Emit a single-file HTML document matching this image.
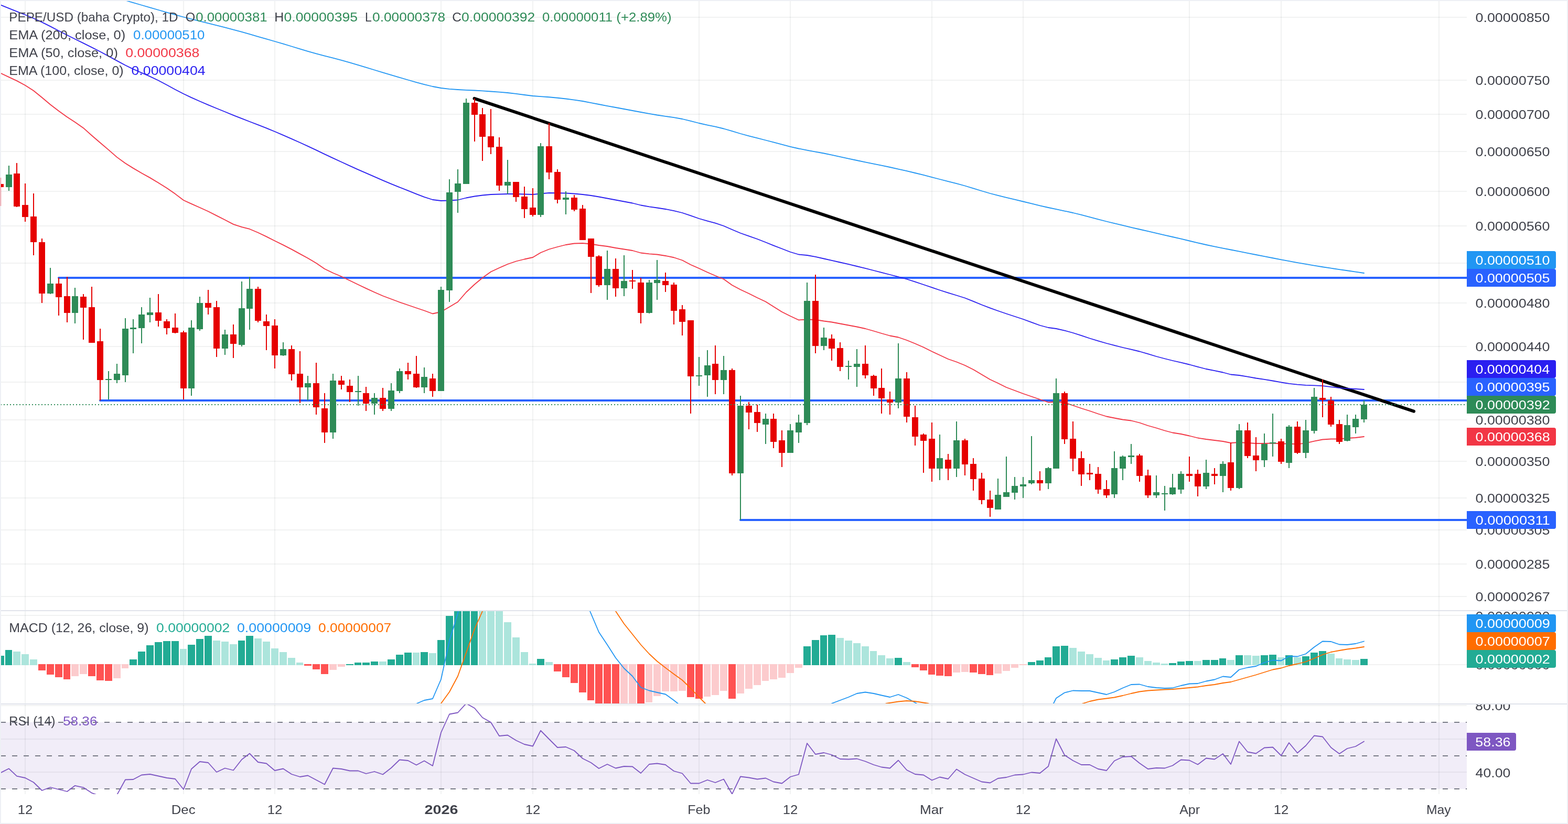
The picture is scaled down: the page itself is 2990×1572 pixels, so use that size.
<!DOCTYPE html>
<html lang="en"><head><meta charset="utf-8"><title>PEPE/USD chart</title>
<style>html,body{margin:0;padding:0;background:#fff;}body{width:2990px;height:1572px;overflow:hidden;}svg{display:block;}text{font-family:'Liberation Sans', sans-serif;font-size:24.6px;}</style>
</head><body>
<svg width="2990" height="1572" viewBox="0 0 2990 1572" role="img" aria-label="PEPE/USD daily chart">
<defs>
<clipPath id="cpMain"><rect x="0" y="0" width="2797" height="1164"/></clipPath>
<clipPath id="cpMacd"><rect x="0" y="1166" width="2797" height="176"/></clipPath>
<clipPath id="cpRsi"><rect x="0" y="1344" width="2797" height="171"/></clipPath>
<clipPath id="cpAx1"><rect x="2797" y="2" width="193" height="1162"/></clipPath>
<clipPath id="cpAx2"><rect x="2797" y="1166" width="193" height="176"/></clipPath>
<clipPath id="cpAx3"><rect x="2797" y="1344" width="193" height="171"/></clipPath>
</defs>
<rect width="2990" height="1572" fill="#fff"/>
<g fill="rgba(36,48,46,0.062)" shape-rendering="crispEdges">
<rect x="47" y="2" width="2" height="1513"/>
<rect x="349" y="2" width="2" height="1513"/>
<rect x="523" y="2" width="2" height="1513"/>
<rect x="840" y="2" width="2" height="1513"/>
<rect x="1015" y="2" width="2" height="1513"/>
<rect x="1332" y="2" width="2" height="1513"/>
<rect x="1506" y="2" width="2" height="1513"/>
<rect x="1776" y="2" width="2" height="1513"/>
<rect x="1950" y="2" width="2" height="1513"/>
<rect x="2267" y="2" width="2" height="1513"/>
<rect x="2442" y="2" width="2" height="1513"/>
<rect x="2743" y="2" width="2" height="1513"/>
<rect x="2" y="32" width="2795" height="2"/>
<rect x="2" y="152" width="2795" height="2"/>
<rect x="2" y="217" width="2795" height="2"/>
<rect x="2" y="288" width="2795" height="2"/>
<rect x="2" y="364" width="2795" height="2"/>
<rect x="2" y="430" width="2795" height="2"/>
<rect x="2" y="501" width="2795" height="2"/>
<rect x="2" y="577" width="2795" height="2"/>
<rect x="2" y="660" width="2795" height="2"/>
<rect x="2" y="728" width="2795" height="2"/>
<rect x="2" y="800" width="2795" height="2"/>
<rect x="2" y="879" width="2795" height="2"/>
<rect x="2" y="949" width="2795" height="2"/>
<rect x="2" y="1010" width="2795" height="2"/>
<rect x="2" y="1075" width="2795" height="2"/>
<rect x="2" y="1137" width="2795" height="2"/>
<rect x="2" y="1173" width="2795" height="2"/>
<rect x="2" y="1267" width="2795" height="2"/>
<rect x="2" y="1345" width="2795" height="2"/>
<rect x="2" y="1409" width="2795" height="2"/>
<rect x="2" y="1472" width="2795" height="2"/>
</g>
<rect x="2" y="1378" width="2795" height="127" fill="rgba(126,87,194,0.11)"/>
<g stroke="#787b86" stroke-width="2" stroke-dasharray="10 12" fill="none">
<line x1="1" y1="1378" x2="2797" y2="1378"/>
<line x1="1" y1="1442" x2="2797" y2="1442"/>
<line x1="1" y1="1505" x2="2797" y2="1505"/>
</g>
<g clip-path="url(#cpMain)">
<g stroke="#2962ff" stroke-width="4" stroke-linecap="round" fill="none">
<line x1="112" y1="530" x2="2801" y2="530"/>
<line x1="191" y1="764" x2="2801" y2="764"/>
<line x1="1412" y1="992" x2="2801" y2="992"/>
</g>
<line x1="904.5" y1="187.9" x2="2696" y2="784.7" stroke="#000" stroke-width="6" stroke-linecap="round"/>
<polyline points="240,1 254,5.08 270,9.76 286,14.41 302,19.01 318,23.58 334,28.09 350,32.5 365,36.45 381,40.47 397,44.39 413,48.31 429,52.33 445,56.54 461,60.94 476,65.17 492,69.76 508,74.38 524,79 540,83.69 556,88.51 572,93.35 587,97.82 603,102.42 619,106.74 635,110.74 651,114.85 667,119.31 683,124.03 698,128.58 714,133.5 730,138.36 746,143.08 762,147.8 778,152.51 794,157.05 809,161.05 825,165 841,168 857,169.84 873,171 889,171.81 905,172.5 920,173.41 936,174.5 952,175.63 968,177 984,178.91 1000,181 1016,183 1031,184.21 1047,185.25 1063,186.73 1079,188.5 1095,190.56 1111,193 1127,196.01 1142,199 1158,202.01 1174,205 1190,208 1206,211 1222,214 1238,216.9 1253,219.5 1269,221.89 1285,224.15 1301,227 1317,230.89 1333,235 1349,238.53 1364,241.68 1380,245.5 1396,250.19 1412,255 1428,259.33 1444,263.43 1460,267.5 1475,271.44 1491,275.69 1507,279.78 1523,283.5 1539,286.66 1555,289.52 1571,292.5 1586,295.59 1602,299.05 1618,302.56 1634,306 1650,309.3 1666,312.53 1681,315.6 1697,319 1713,322.55 1729,326.2 1745,330 1761,333.99 1777,338.11 1792,342 1808,346.07 1824,350.18 1840,354.5 1856,359.27 1872,364.26 1888,369 1903,372.98 1919,376.91 1935,380.69 1951,384.5 1967,388.4 1983,392.27 1999,396 2014,399.22 2030,402.51 2046,406 2062,409.92 2078,414.12 2094,418.39 2110,422.5 2125,426.17 2141,429.99 2157,433.76 2173,437.5 2189,441.21 2205,444.87 2221,448.53 2236,452 2252,455.74 2268,459.5 2284,463.3 2300,467 2316,470.38 2332,473.55 2347,476.5 2363,479.69 2379,482.86 2395,486 2411,489.14 2427,492.25 2443,495.31 2458,498.13 2474,501.09 2490,503.95 2506,506.69 2522,509.26 2538,511.71 2554,514.07 2569,516.26 2585,518.6 2601,521" fill="none" stroke="#2196f3" stroke-width="1.8" stroke-linejoin="round" stroke-linecap="round"/>
<polyline points="0,9 1,9.41 17,15.86 32,21.79 48,28.23 64,35.01 80,42.38 96,50.39 112,58.71 128,66.99 143,74.5 159,82.42 175,90.37 191,98.52 207,107.1 223,115.9 239,124.48 254,131.89 270,138.94 286,145.84 302,153.48 318,161.97 334,170.7 350,179 365,186.13 381,193.3 397,200.14 413,206.75 429,213.28 445,219.82 461,226.2 476,232.01 492,238.17 508,244.44 524,251 540,257.84 556,264.85 572,272.03 587,278.92 603,286.42 619,294.15 635,301.64 651,308.96 667,316.36 683,323.56 698,330.12 714,337.19 730,344.14 746,350.85 762,357.33 778,363.71 794,370.2 809,375.94 825,381 841,383 857,382.5 873,381.5 889,377.5 905,374.5 920,372.5 936,371 952,370.5 968,370 984,370 1000,370.5 1016,371 1031,369.5 1047,368 1063,368.25 1079,368.5 1095,369.5 1111,371 1127,373 1142,375.5 1158,378.5 1174,381.5 1190,384.5 1206,387.5 1222,391.5 1238,394.31 1253,396.5 1269,399 1285,402.08 1301,406 1317,411.32 1333,417 1349,421.62 1364,425.69 1380,431 1396,438.05 1412,444.73 1428,450.36 1444,456 1460,462.27 1475,468.34 1491,474.5 1507,480.75 1523,485.5 1539,487 1555,489.91 1571,493.5 1586,496.83 1602,500.5 1618,504.2 1634,508 1650,511.95 1666,516 1681,519.84 1697,524 1713,528.11 1729,532.5 1745,537.6 1761,543 1777,548.45 1792,553.5 1808,558.55 1824,563.5 1840,568.5 1856,574.82 1872,581.5 1888,587.56 1903,593 1919,598.5 1935,603.75 1951,609 1967,614.88 1983,620.75 1999,625 2014,627 2030,630.53 2046,635 2062,640.16 2078,645.5 2094,650.39 2110,655 2125,658.99 2141,663 2157,666.67 2173,670.5 2189,675.2 2205,680 2221,684.25 2236,688 2252,691.74 2268,695.5 2284,699.81 2300,704 2316,707.2 2332,710.5 2347,714.5 2363,716 2379,718.57 2395,721.5 2411,723.96 2427,726.5 2443,729.49 2458,731.77 2474,733.62 2490,734.93 2506,735.46 2522,736.08 2538,738.04 2554,740.05 2569,741.1 2585,742 2601,743" fill="none" stroke="#2a1ff0" stroke-width="1.8" stroke-linejoin="round" stroke-linecap="round"/>
<polyline points="0,139 1,139.5 17,147.1 32,154.13 48,162.8 64,173.04 80,185.96 96,199.54 112,211.77 128,223.35 143,232.93 159,244.18 175,258.5 191,272.25 207,285.82 223,299.87 239,311.51 254,320.88 270,330.18 286,339.12 302,348.73 318,358.83 334,369.86 350,382 365,388.91 381,395.99 397,403.26 413,411.33 429,419.57 445,427.85 461,433.22 476,436.97 492,443.72 508,451.39 524,459.5 540,467.43 556,475.66 572,484.35 587,492.48 603,501.97 619,513 635,520.77 651,527.5 667,535.22 683,543 698,550.12 714,557.5 730,564.5 746,570.5 762,576.5 778,582 794,587.5 809,592.5 825,598.5 841,595 857,585.5 873,576 889,557.5 905,542.5 920,530 936,518.5 952,511 968,504 984,498.5 1000,494.5 1016,491 1031,482 1047,475.5 1063,471 1079,467 1095,464.5 1111,464 1127,465.5 1142,468 1158,470 1174,473 1190,475.5 1206,478 1222,482.5 1238,484.35 1253,485.5 1269,488 1285,491.25 1301,496.5 1317,505 1333,512 1349,519.5 1364,526 1380,532.5 1396,544 1412,552.5 1428,560 1444,568 1460,575.5 1475,585 1491,595 1507,603 1523,610.5 1539,609.5 1555,610 1571,612.5 1586,614.5 1602,617.5 1618,620.5 1634,623.5 1650,627 1666,631.5 1681,636 1697,640.5 1713,643.5 1729,649 1745,655.5 1761,662.5 1777,670.5 1792,677.5 1808,685 1824,690.5 1840,697 1856,705 1872,714.5 1888,724 1903,731 1919,739 1935,745 1951,751 1967,756.5 1983,762 1999,767.5 2014,766.5 2030,768 2046,773.5 2062,779 2078,784 2094,789.5 2110,794.5 2125,797.5 2141,800.5 2157,802.5 2173,806.5 2189,812 2205,816.5 2221,821.5 2236,825.5 2252,828 2268,831.5 2284,835.5 2300,838 2316,840 2332,842 2347,845 2363,844 2379,845 2395,846 2411,846 2427,845.5 2443,846.5 2458,846.5 2474,847.28 2490,845.34 2506,841.69 2522,838.5 2538,837.5 2554,837.5 2569,836 2585,835 2601,833" fill="none" stroke="#f23645" stroke-width="1.8" stroke-linejoin="round" stroke-linecap="round"/>
<g fill="#e60000" shape-rendering="crispEdges">
<rect x="0" y="339" width="2" height="54"/>
<rect x="-5" y="351" width="12" height="6"/>
<rect x="31" y="311" width="2" height="84"/>
<rect x="26" y="331" width="12" height="63"/>
<rect x="47" y="350" width="2" height="73"/>
<rect x="42" y="391" width="12" height="23"/>
<rect x="63" y="369" width="2" height="118"/>
<rect x="58" y="413" width="12" height="49"/>
<rect x="79" y="455" width="2" height="123"/>
<rect x="74" y="462" width="12" height="98"/>
<rect x="111" y="530" width="2" height="72"/>
<rect x="106" y="541" width="12" height="26"/>
<rect x="127" y="528" width="2" height="87"/>
<rect x="122" y="565" width="12" height="32"/>
<rect x="158" y="561" width="2" height="87"/>
<rect x="153" y="566" width="12" height="21"/>
<rect x="174" y="547" width="2" height="107"/>
<rect x="169" y="586" width="12" height="68"/>
<rect x="190" y="627" width="2" height="137"/>
<rect x="185" y="651" width="12" height="74"/>
<rect x="301" y="561" width="2" height="62"/>
<rect x="296" y="596" width="12" height="16"/>
<rect x="317" y="609" width="2" height="29"/>
<rect x="312" y="613" width="12" height="13"/>
<rect x="333" y="598" width="2" height="38"/>
<rect x="328" y="625" width="12" height="10"/>
<rect x="349" y="631" width="2" height="131"/>
<rect x="344" y="634" width="12" height="107"/>
<rect x="396" y="553" width="2" height="47"/>
<rect x="391" y="578" width="12" height="9"/>
<rect x="412" y="574" width="2" height="107"/>
<rect x="407" y="586" width="12" height="79"/>
<rect x="444" y="619" width="2" height="64"/>
<rect x="439" y="638" width="12" height="18"/>
<rect x="491" y="547" width="2" height="68"/>
<rect x="486" y="551" width="12" height="61"/>
<rect x="507" y="600" width="2" height="68"/>
<rect x="502" y="613" width="12" height="9"/>
<rect x="523" y="609" width="2" height="94"/>
<rect x="518" y="621" width="12" height="57"/>
<rect x="555" y="659" width="2" height="67"/>
<rect x="550" y="666" width="12" height="48"/>
<rect x="571" y="670" width="2" height="99"/>
<rect x="566" y="713" width="12" height="26"/>
<rect x="602" y="692" width="2" height="99"/>
<rect x="597" y="731" width="12" height="46"/>
<rect x="618" y="750" width="2" height="95"/>
<rect x="613" y="779" width="12" height="46"/>
<rect x="650" y="717" width="2" height="26"/>
<rect x="645" y="726" width="12" height="8"/>
<rect x="666" y="724" width="2" height="43"/>
<rect x="661" y="736" width="12" height="12"/>
<rect x="697" y="738" width="2" height="46"/>
<rect x="692" y="750" width="12" height="20"/>
<rect x="729" y="740" width="2" height="44"/>
<rect x="724" y="759" width="12" height="21"/>
<rect x="777" y="692" width="2" height="32"/>
<rect x="772" y="708" width="12" height="6"/>
<rect x="793" y="679" width="2" height="61"/>
<rect x="788" y="713" width="12" height="26"/>
<rect x="824" y="713" width="2" height="44"/>
<rect x="819" y="722" width="12" height="24"/>
<rect x="904" y="188" width="2" height="82"/>
<rect x="899" y="196" width="12" height="23"/>
<rect x="919" y="206" width="2" height="101"/>
<rect x="914" y="218" width="12" height="43"/>
<rect x="935" y="208" width="2" height="86"/>
<rect x="930" y="260" width="12" height="21"/>
<rect x="951" y="262" width="2" height="102"/>
<rect x="946" y="280" width="12" height="74"/>
<rect x="983" y="347" width="2" height="38"/>
<rect x="978" y="347" width="12" height="29"/>
<rect x="999" y="356" width="2" height="60"/>
<rect x="994" y="375" width="12" height="24"/>
<rect x="1015" y="359" width="2" height="54"/>
<rect x="1010" y="396" width="12" height="14"/>
<rect x="1046" y="235" width="2" height="107"/>
<rect x="1041" y="279" width="12" height="50"/>
<rect x="1062" y="323" width="2" height="65"/>
<rect x="1057" y="328" width="12" height="53"/>
<rect x="1094" y="372" width="2" height="31"/>
<rect x="1089" y="377" width="12" height="23"/>
<rect x="1110" y="391" width="2" height="67"/>
<rect x="1105" y="398" width="12" height="60"/>
<rect x="1126" y="455" width="2" height="104"/>
<rect x="1121" y="455" width="12" height="35"/>
<rect x="1141" y="487" width="2" height="60"/>
<rect x="1136" y="489" width="12" height="55"/>
<rect x="1173" y="493" width="2" height="73"/>
<rect x="1168" y="513" width="12" height="37"/>
<rect x="1205" y="515" width="2" height="36"/>
<rect x="1200" y="535" width="12" height="2"/>
<rect x="1221" y="530" width="2" height="87"/>
<rect x="1216" y="539" width="12" height="58"/>
<rect x="1268" y="520" width="2" height="37"/>
<rect x="1263" y="536" width="12" height="8"/>
<rect x="1284" y="539" width="2" height="80"/>
<rect x="1279" y="543" width="12" height="50"/>
<rect x="1300" y="582" width="2" height="58"/>
<rect x="1295" y="590" width="12" height="24"/>
<rect x="1316" y="611" width="2" height="178"/>
<rect x="1311" y="611" width="12" height="107"/>
<rect x="1363" y="659" width="2" height="93"/>
<rect x="1358" y="694" width="12" height="31"/>
<rect x="1395" y="703" width="2" height="204"/>
<rect x="1390" y="706" width="12" height="197"/>
<rect x="1427" y="767" width="2" height="52"/>
<rect x="1422" y="774" width="12" height="13"/>
<rect x="1443" y="772" width="2" height="52"/>
<rect x="1438" y="786" width="12" height="21"/>
<rect x="1474" y="789" width="2" height="66"/>
<rect x="1469" y="799" width="12" height="44"/>
<rect x="1490" y="821" width="2" height="70"/>
<rect x="1485" y="840" width="12" height="24"/>
<rect x="1554" y="524" width="2" height="150"/>
<rect x="1549" y="574" width="12" height="86"/>
<rect x="1585" y="638" width="2" height="50"/>
<rect x="1580" y="646" width="12" height="19"/>
<rect x="1601" y="653" width="2" height="55"/>
<rect x="1596" y="664" width="12" height="36"/>
<rect x="1649" y="659" width="2" height="63"/>
<rect x="1644" y="694" width="12" height="22"/>
<rect x="1665" y="715" width="2" height="40"/>
<rect x="1660" y="717" width="12" height="24"/>
<rect x="1680" y="703" width="2" height="86"/>
<rect x="1675" y="740" width="12" height="20"/>
<rect x="1696" y="747" width="2" height="44"/>
<rect x="1691" y="762" width="12" height="6"/>
<rect x="1728" y="710" width="2" height="96"/>
<rect x="1723" y="722" width="12" height="73"/>
<rect x="1744" y="774" width="2" height="76"/>
<rect x="1739" y="796" width="12" height="37"/>
<rect x="1760" y="827" width="2" height="75"/>
<rect x="1755" y="829" width="12" height="12"/>
<rect x="1776" y="806" width="2" height="113"/>
<rect x="1771" y="837" width="12" height="57"/>
<rect x="1807" y="866" width="2" height="50"/>
<rect x="1802" y="877" width="12" height="17"/>
<rect x="1839" y="837" width="2" height="70"/>
<rect x="1834" y="840" width="12" height="46"/>
<rect x="1855" y="874" width="2" height="62"/>
<rect x="1850" y="885" width="12" height="29"/>
<rect x="1871" y="902" width="2" height="60"/>
<rect x="1866" y="913" width="12" height="41"/>
<rect x="1887" y="936" width="2" height="50"/>
<rect x="1882" y="953" width="12" height="16"/>
<rect x="1982" y="899" width="2" height="37"/>
<rect x="1977" y="916" width="12" height="6"/>
<rect x="2029" y="747" width="2" height="100"/>
<rect x="2024" y="750" width="12" height="88"/>
<rect x="2045" y="804" width="2" height="95"/>
<rect x="2040" y="837" width="12" height="38"/>
<rect x="2061" y="861" width="2" height="66"/>
<rect x="2056" y="874" width="12" height="31"/>
<rect x="2077" y="885" width="2" height="31"/>
<rect x="2072" y="902" width="12" height="3"/>
<rect x="2093" y="891" width="2" height="51"/>
<rect x="2088" y="904" width="12" height="30"/>
<rect x="2109" y="916" width="2" height="34"/>
<rect x="2104" y="933" width="12" height="12"/>
<rect x="2172" y="866" width="2" height="53"/>
<rect x="2167" y="869" width="12" height="39"/>
<rect x="2188" y="896" width="2" height="54"/>
<rect x="2183" y="907" width="12" height="38"/>
<rect x="2267" y="871" width="2" height="48"/>
<rect x="2262" y="904" width="12" height="4"/>
<rect x="2283" y="896" width="2" height="51"/>
<rect x="2278" y="904" width="12" height="24"/>
<rect x="2315" y="893" width="2" height="31"/>
<rect x="2310" y="904" width="12" height="4"/>
<rect x="2346" y="845" width="2" height="91"/>
<rect x="2341" y="882" width="12" height="49"/>
<rect x="2378" y="806" width="2" height="68"/>
<rect x="2373" y="821" width="12" height="49"/>
<rect x="2394" y="834" width="2" height="65"/>
<rect x="2389" y="869" width="12" height="9"/>
<rect x="2442" y="837" width="2" height="48"/>
<rect x="2437" y="842" width="12" height="39"/>
<rect x="2473" y="804" width="2" height="62"/>
<rect x="2468" y="814" width="12" height="50"/>
<rect x="2521" y="724" width="2" height="72"/>
<rect x="2516" y="759" width="12" height="4"/>
<rect x="2537" y="757" width="2" height="57"/>
<rect x="2532" y="764" width="12" height="46"/>
<rect x="2553" y="801" width="2" height="46"/>
<rect x="2548" y="809" width="12" height="34"/>
</g>
<g fill="#2e8b57" shape-rendering="crispEdges">
<rect x="16" y="316" width="2" height="48"/>
<rect x="11" y="333" width="12" height="24"/>
<rect x="95" y="511" width="2" height="50"/>
<rect x="90" y="541" width="12" height="19"/>
<rect x="142" y="549" width="2" height="68"/>
<rect x="137" y="565" width="12" height="32"/>
<rect x="206" y="708" width="2" height="54"/>
<rect x="201" y="723" width="12" height="2"/>
<rect x="222" y="694" width="2" height="37"/>
<rect x="217" y="713" width="12" height="12"/>
<rect x="238" y="607" width="2" height="122"/>
<rect x="233" y="627" width="12" height="89"/>
<rect x="253" y="609" width="2" height="65"/>
<rect x="248" y="625" width="12" height="3"/>
<rect x="269" y="586" width="2" height="69"/>
<rect x="264" y="600" width="12" height="26"/>
<rect x="285" y="568" width="2" height="47"/>
<rect x="280" y="596" width="12" height="5"/>
<rect x="364" y="611" width="2" height="144"/>
<rect x="359" y="625" width="12" height="116"/>
<rect x="380" y="566" width="2" height="65"/>
<rect x="375" y="578" width="12" height="50"/>
<rect x="428" y="629" width="2" height="48"/>
<rect x="423" y="638" width="12" height="27"/>
<rect x="460" y="537" width="2" height="124"/>
<rect x="455" y="588" width="12" height="70"/>
<rect x="475" y="528" width="2" height="101"/>
<rect x="470" y="551" width="12" height="38"/>
<rect x="539" y="653" width="2" height="26"/>
<rect x="534" y="666" width="12" height="12"/>
<rect x="586" y="717" width="2" height="47"/>
<rect x="581" y="731" width="12" height="8"/>
<rect x="634" y="713" width="2" height="124"/>
<rect x="629" y="726" width="12" height="99"/>
<rect x="682" y="717" width="2" height="57"/>
<rect x="677" y="746" width="12" height="2"/>
<rect x="713" y="750" width="2" height="41"/>
<rect x="708" y="759" width="12" height="11"/>
<rect x="745" y="731" width="2" height="53"/>
<rect x="740" y="745" width="12" height="35"/>
<rect x="761" y="703" width="2" height="47"/>
<rect x="756" y="708" width="12" height="38"/>
<rect x="808" y="701" width="2" height="49"/>
<rect x="803" y="719" width="12" height="20"/>
<rect x="840" y="547" width="2" height="199"/>
<rect x="835" y="553" width="12" height="193"/>
<rect x="856" y="342" width="2" height="234"/>
<rect x="851" y="367" width="12" height="187"/>
<rect x="872" y="323" width="2" height="83"/>
<rect x="867" y="350" width="12" height="16"/>
<rect x="888" y="188" width="2" height="163"/>
<rect x="883" y="196" width="12" height="155"/>
<rect x="967" y="305" width="2" height="65"/>
<rect x="962" y="347" width="12" height="7"/>
<rect x="1030" y="273" width="2" height="141"/>
<rect x="1025" y="279" width="12" height="131"/>
<rect x="1078" y="365" width="2" height="44"/>
<rect x="1073" y="377" width="12" height="4"/>
<rect x="1157" y="478" width="2" height="94"/>
<rect x="1152" y="513" width="12" height="31"/>
<rect x="1189" y="487" width="2" height="78"/>
<rect x="1184" y="536" width="12" height="14"/>
<rect x="1237" y="534" width="2" height="64"/>
<rect x="1232" y="539" width="12" height="58"/>
<rect x="1252" y="496" width="2" height="76"/>
<rect x="1247" y="534" width="12" height="6"/>
<rect x="1332" y="681" width="2" height="55"/>
<rect x="1327" y="716" width="12" height="2"/>
<rect x="1348" y="668" width="2" height="89"/>
<rect x="1343" y="697" width="12" height="19"/>
<rect x="1379" y="679" width="2" height="73"/>
<rect x="1374" y="706" width="12" height="19"/>
<rect x="1411" y="755" width="2" height="237"/>
<rect x="1406" y="774" width="12" height="129"/>
<rect x="1459" y="789" width="2" height="58"/>
<rect x="1454" y="799" width="12" height="11"/>
<rect x="1506" y="809" width="2" height="55"/>
<rect x="1501" y="821" width="12" height="43"/>
<rect x="1522" y="791" width="2" height="54"/>
<rect x="1517" y="806" width="12" height="19"/>
<rect x="1538" y="539" width="2" height="272"/>
<rect x="1533" y="574" width="12" height="233"/>
<rect x="1570" y="625" width="2" height="43"/>
<rect x="1565" y="644" width="12" height="16"/>
<rect x="1617" y="688" width="2" height="36"/>
<rect x="1612" y="698" width="12" height="2"/>
<rect x="1633" y="666" width="2" height="72"/>
<rect x="1628" y="694" width="12" height="6"/>
<rect x="1712" y="655" width="2" height="124"/>
<rect x="1707" y="722" width="12" height="46"/>
<rect x="1791" y="829" width="2" height="87"/>
<rect x="1786" y="874" width="12" height="20"/>
<rect x="1823" y="804" width="2" height="106"/>
<rect x="1818" y="840" width="12" height="54"/>
<rect x="1902" y="913" width="2" height="59"/>
<rect x="1897" y="944" width="12" height="28"/>
<rect x="1918" y="871" width="2" height="77"/>
<rect x="1913" y="939" width="12" height="9"/>
<rect x="1934" y="910" width="2" height="43"/>
<rect x="1929" y="927" width="12" height="13"/>
<rect x="1950" y="910" width="2" height="40"/>
<rect x="1945" y="924" width="12" height="4"/>
<rect x="1966" y="832" width="2" height="92"/>
<rect x="1961" y="916" width="12" height="6"/>
<rect x="1998" y="891" width="2" height="42"/>
<rect x="1993" y="893" width="12" height="29"/>
<rect x="2013" y="722" width="2" height="172"/>
<rect x="2008" y="750" width="12" height="144"/>
<rect x="2124" y="861" width="2" height="89"/>
<rect x="2119" y="893" width="12" height="50"/>
<rect x="2140" y="869" width="2" height="47"/>
<rect x="2135" y="871" width="12" height="23"/>
<rect x="2156" y="847" width="2" height="38"/>
<rect x="2151" y="869" width="12" height="3"/>
<rect x="2204" y="907" width="2" height="43"/>
<rect x="2199" y="939" width="12" height="6"/>
<rect x="2220" y="927" width="2" height="47"/>
<rect x="2215" y="941" width="12" height="2"/>
<rect x="2235" y="904" width="2" height="40"/>
<rect x="2230" y="930" width="12" height="13"/>
<rect x="2251" y="899" width="2" height="43"/>
<rect x="2246" y="904" width="12" height="30"/>
<rect x="2299" y="877" width="2" height="56"/>
<rect x="2294" y="902" width="12" height="26"/>
<rect x="2331" y="880" width="2" height="59"/>
<rect x="2326" y="885" width="12" height="23"/>
<rect x="2362" y="809" width="2" height="124"/>
<rect x="2357" y="821" width="12" height="110"/>
<rect x="2410" y="827" width="2" height="64"/>
<rect x="2405" y="847" width="12" height="31"/>
<rect x="2426" y="789" width="2" height="82"/>
<rect x="2421" y="844" width="12" height="2"/>
<rect x="2457" y="811" width="2" height="82"/>
<rect x="2452" y="814" width="12" height="69"/>
<rect x="2489" y="801" width="2" height="73"/>
<rect x="2484" y="821" width="12" height="43"/>
<rect x="2505" y="740" width="2" height="87"/>
<rect x="2500" y="757" width="12" height="65"/>
<rect x="2568" y="791" width="2" height="51"/>
<rect x="2563" y="811" width="12" height="30"/>
<rect x="2584" y="791" width="2" height="36"/>
<rect x="2579" y="799" width="12" height="16"/>
<rect x="2600" y="764" width="2" height="42"/>
<rect x="2595" y="772" width="12" height="28"/>
</g>
<line x1="1" y1="772" x2="2797" y2="772" stroke="#2e8b57" stroke-width="2" stroke-dasharray="2 4" shape-rendering="crispEdges"/>
</g>
<g clip-path="url(#cpMacd)">
<g fill="#22ab94" shape-rendering="crispEdges">
<rect x="-6" y="1251" width="14" height="18"/>
<rect x="10" y="1240" width="13" height="29"/>
<rect x="247" y="1258" width="14" height="11"/>
<rect x="263" y="1243" width="14" height="26"/>
<rect x="279" y="1231" width="14" height="38"/>
<rect x="295" y="1225" width="14" height="44"/>
<rect x="311" y="1223" width="14" height="46"/>
<rect x="327" y="1223" width="14" height="46"/>
<rect x="358" y="1230" width="14" height="39"/>
<rect x="374" y="1219" width="14" height="50"/>
<rect x="390" y="1213" width="14" height="56"/>
<rect x="454" y="1222" width="13" height="47"/>
<rect x="469" y="1213" width="14" height="56"/>
<rect x="660" y="1267" width="14" height="2"/>
<rect x="676" y="1264" width="13" height="5"/>
<rect x="691" y="1264" width="14" height="5"/>
<rect x="707" y="1262" width="14" height="7"/>
<rect x="739" y="1258" width="14" height="11"/>
<rect x="755" y="1249" width="14" height="20"/>
<rect x="771" y="1245" width="14" height="24"/>
<rect x="802" y="1244" width="14" height="25"/>
<rect x="834" y="1221" width="14" height="48"/>
<rect x="850" y="1175" width="14" height="94"/>
<rect x="866" y="1160" width="14" height="109"/>
<rect x="882" y="1160" width="14" height="109"/>
<rect x="898" y="1160" width="13" height="109"/>
<rect x="1024" y="1257" width="14" height="12"/>
<rect x="1532" y="1233" width="14" height="36"/>
<rect x="1548" y="1221" width="14" height="48"/>
<rect x="1564" y="1212" width="13" height="57"/>
<rect x="1579" y="1211" width="14" height="58"/>
<rect x="1706" y="1255" width="14" height="14"/>
<rect x="1960" y="1263" width="14" height="6"/>
<rect x="1976" y="1260" width="14" height="9"/>
<rect x="1992" y="1254" width="13" height="15"/>
<rect x="2007" y="1233" width="14" height="36"/>
<rect x="2023" y="1232" width="14" height="37"/>
<rect x="2118" y="1258" width="14" height="11"/>
<rect x="2134" y="1254" width="14" height="15"/>
<rect x="2150" y="1251" width="14" height="18"/>
<rect x="2229" y="1265" width="14" height="4"/>
<rect x="2245" y="1262" width="14" height="7"/>
<rect x="2261" y="1261" width="14" height="8"/>
<rect x="2293" y="1259" width="14" height="10"/>
<rect x="2309" y="1259" width="14" height="10"/>
<rect x="2325" y="1256" width="13" height="13"/>
<rect x="2356" y="1250" width="14" height="19"/>
<rect x="2404" y="1250" width="14" height="19"/>
<rect x="2420" y="1249" width="14" height="20"/>
<rect x="2451" y="1250" width="14" height="19"/>
<rect x="2483" y="1252" width="14" height="17"/>
<rect x="2499" y="1245" width="14" height="24"/>
<rect x="2515" y="1242" width="14" height="27"/>
<rect x="2594" y="1257" width="14" height="12"/>
</g>
<g fill="#ace5dc" shape-rendering="crispEdges">
<rect x="25" y="1243" width="14" height="26"/>
<rect x="41" y="1248" width="14" height="21"/>
<rect x="57" y="1258" width="14" height="11"/>
<rect x="343" y="1238" width="13" height="31"/>
<rect x="406" y="1222" width="14" height="47"/>
<rect x="422" y="1224" width="14" height="45"/>
<rect x="438" y="1229" width="14" height="40"/>
<rect x="485" y="1218" width="14" height="51"/>
<rect x="501" y="1224" width="14" height="45"/>
<rect x="517" y="1237" width="14" height="32"/>
<rect x="533" y="1244" width="14" height="25"/>
<rect x="549" y="1255" width="14" height="14"/>
<rect x="565" y="1264" width="13" height="5"/>
<rect x="723" y="1262" width="14" height="7"/>
<rect x="787" y="1245" width="13" height="24"/>
<rect x="818" y="1246" width="14" height="23"/>
<rect x="913" y="1160" width="14" height="109"/>
<rect x="929" y="1160" width="14" height="109"/>
<rect x="945" y="1160" width="14" height="109"/>
<rect x="961" y="1187" width="14" height="82"/>
<rect x="977" y="1216" width="14" height="53"/>
<rect x="993" y="1244" width="14" height="25"/>
<rect x="1009" y="1266" width="13" height="3"/>
<rect x="1040" y="1263" width="14" height="6"/>
<rect x="1595" y="1217" width="14" height="52"/>
<rect x="1611" y="1222" width="14" height="47"/>
<rect x="1627" y="1227" width="14" height="42"/>
<rect x="1643" y="1233" width="14" height="36"/>
<rect x="1659" y="1242" width="13" height="27"/>
<rect x="1674" y="1250" width="14" height="19"/>
<rect x="1690" y="1256" width="14" height="13"/>
<rect x="1722" y="1263" width="14" height="6"/>
<rect x="2039" y="1236" width="14" height="33"/>
<rect x="2055" y="1243" width="14" height="26"/>
<rect x="2071" y="1248" width="14" height="21"/>
<rect x="2087" y="1255" width="14" height="14"/>
<rect x="2103" y="1260" width="13" height="9"/>
<rect x="2166" y="1254" width="14" height="15"/>
<rect x="2182" y="1261" width="14" height="8"/>
<rect x="2198" y="1264" width="14" height="5"/>
<rect x="2214" y="1266" width="13" height="3"/>
<rect x="2277" y="1261" width="14" height="8"/>
<rect x="2340" y="1259" width="14" height="10"/>
<rect x="2372" y="1250" width="14" height="19"/>
<rect x="2388" y="1251" width="14" height="18"/>
<rect x="2436" y="1254" width="13" height="15"/>
<rect x="2467" y="1254" width="14" height="15"/>
<rect x="2531" y="1247" width="14" height="22"/>
<rect x="2547" y="1256" width="13" height="13"/>
<rect x="2562" y="1258" width="14" height="11"/>
<rect x="2578" y="1259" width="14" height="10"/>
</g>
<g fill="#ff5252" shape-rendering="crispEdges">
<rect x="73" y="1267" width="14" height="12"/>
<rect x="89" y="1267" width="14" height="20"/>
<rect x="105" y="1267" width="14" height="25"/>
<rect x="121" y="1267" width="13" height="29"/>
<rect x="168" y="1267" width="14" height="23"/>
<rect x="184" y="1267" width="14" height="31"/>
<rect x="200" y="1267" width="14" height="32"/>
<rect x="580" y="1267" width="14" height="3"/>
<rect x="596" y="1267" width="14" height="10"/>
<rect x="612" y="1267" width="14" height="19"/>
<rect x="1056" y="1267" width="14" height="14"/>
<rect x="1072" y="1267" width="14" height="25"/>
<rect x="1088" y="1267" width="14" height="36"/>
<rect x="1104" y="1267" width="14" height="54"/>
<rect x="1120" y="1267" width="13" height="69"/>
<rect x="1135" y="1267" width="14" height="83"/>
<rect x="1151" y="1267" width="14" height="83"/>
<rect x="1167" y="1267" width="14" height="83"/>
<rect x="1215" y="1267" width="14" height="83"/>
<rect x="1310" y="1267" width="14" height="63"/>
<rect x="1326" y="1267" width="14" height="66"/>
<rect x="1389" y="1267" width="14" height="66"/>
<rect x="1738" y="1267" width="14" height="6"/>
<rect x="1754" y="1267" width="14" height="12"/>
<rect x="1770" y="1267" width="13" height="20"/>
<rect x="1785" y="1267" width="14" height="22"/>
<rect x="1801" y="1267" width="14" height="23"/>
<rect x="1849" y="1267" width="14" height="16"/>
<rect x="1865" y="1267" width="14" height="19"/>
<rect x="1881" y="1267" width="13" height="21"/>
</g>
<g fill="#fccbcd" shape-rendering="crispEdges">
<rect x="136" y="1267" width="14" height="23"/>
<rect x="152" y="1267" width="14" height="19"/>
<rect x="216" y="1267" width="14" height="27"/>
<rect x="232" y="1267" width="13" height="8"/>
<rect x="628" y="1267" width="14" height="11"/>
<rect x="644" y="1267" width="14" height="5"/>
<rect x="1183" y="1267" width="14" height="83"/>
<rect x="1199" y="1267" width="14" height="83"/>
<rect x="1231" y="1267" width="13" height="73"/>
<rect x="1246" y="1267" width="14" height="61"/>
<rect x="1262" y="1267" width="14" height="52"/>
<rect x="1278" y="1267" width="14" height="52"/>
<rect x="1294" y="1267" width="14" height="51"/>
<rect x="1342" y="1267" width="13" height="62"/>
<rect x="1357" y="1267" width="14" height="59"/>
<rect x="1373" y="1267" width="14" height="51"/>
<rect x="1405" y="1267" width="14" height="56"/>
<rect x="1421" y="1267" width="14" height="47"/>
<rect x="1437" y="1267" width="14" height="40"/>
<rect x="1453" y="1267" width="13" height="32"/>
<rect x="1468" y="1267" width="14" height="29"/>
<rect x="1484" y="1267" width="14" height="26"/>
<rect x="1500" y="1267" width="14" height="17"/>
<rect x="1516" y="1267" width="14" height="7"/>
<rect x="1817" y="1267" width="14" height="16"/>
<rect x="1833" y="1267" width="14" height="15"/>
<rect x="1896" y="1267" width="14" height="18"/>
<rect x="1912" y="1267" width="14" height="13"/>
<rect x="1928" y="1267" width="14" height="7"/>
<rect x="1944" y="1267" width="14" height="2"/>
</g>
<polyline points="-10,1500 780,1500 795,1342 809,1336 825,1333 841,1296 857,1222.5 873,1170 889,1100 905,1000 1095,1000 1111,1110 1125,1166 1142,1206 1158,1230 1174,1255 1190,1275 1206,1290 1222,1311.5 1238,1317.5 1253,1321 1269,1324.5 1285,1336 1292.5,1342 1301,1349 1317,1370 1570,1370 1586,1342 1602,1336 1618,1330 1634,1323 1650,1320.5 1666,1323 1681,1326.5 1697,1330 1713,1325 1729,1331.5 1745,1340.5 1747.5,1342 1761,1350 1777,1360 1999,1372 2009,1342 2014,1332 2030,1321.5 2046,1317.5 2062,1318 2078,1318 2094,1321.5 2110,1325 2125,1320 2141,1312.5 2157,1306 2173,1305.5 2189,1310 2205,1312 2221,1313 2236,1312.5 2252,1308 2268,1304.5 2284,1304 2300,1299.5 2316,1296.5 2332,1290.5 2347,1292 2363,1277.5 2379,1273.5 2395,1271 2411,1264 2427,1259.5 2443,1260.5 2458,1252 2474,1252.5 2490,1247.5 2506,1234.5 2522,1223.5 2538,1224 2554,1229.5 2569,1230 2585,1228 2601,1223.5" fill="none" stroke="#2196f3" stroke-width="1.8" stroke-linejoin="round" stroke-linecap="round"/>
<polyline points="-10,1500 825,1365 841,1342 857,1320 873,1290 889,1245 905,1200 920,1166 936,1120 1158,1140 1174,1166 1190,1190 1206,1210 1222,1230 1238,1247.5 1253,1261.5 1269,1274 1285,1286 1301,1297.5 1317,1313 1333,1330 1345,1342 1364,1360 1670,1350 1690,1342 1713,1338.5 1729,1337 1745,1338 1761,1340.5 1770,1342 1792,1350 2046,1350 2065,1342 2078,1338 2094,1334.5 2110,1332.5 2125,1330.5 2141,1327 2157,1323 2173,1319.5 2189,1317.5 2205,1316.5 2221,1315.5 2236,1315 2252,1313.5 2268,1312 2284,1310.5 2300,1308 2316,1306 2332,1303 2347,1301 2363,1296.5 2379,1292 2395,1287.5 2411,1282.5 2427,1277.5 2443,1274.5 2458,1270 2474,1266.5 2490,1262.5 2506,1256 2522,1249 2538,1244 2554,1241 2569,1238.5 2585,1236.5 2601,1234" fill="none" stroke="#ff6d00" stroke-width="1.8" stroke-linejoin="round" stroke-linecap="round"/>
</g>
<g clip-path="url(#cpRsi)">
<polyline points="1,1474.4 17,1466.3 32,1480.6 48,1484 64,1492.5 80,1508 96,1502 112,1506 128,1510 143,1498.8 159,1502.3 175,1512.8 191,1518.5 207,1521 223,1516.5 239,1487.5 254,1487 270,1478.5 286,1477 302,1480.5 318,1484 334,1486 350,1506 365,1467 381,1453 397,1455 413,1473 429,1465.5 445,1469.5 461,1449 476,1437.5 492,1454 508,1456.5 524,1470 540,1466.5 556,1477 572,1482 587,1479.5 603,1488 619,1496.5 635,1465.5 651,1467 667,1470.5 683,1470.5 698,1476 714,1472 730,1477.5 746,1465 762,1449.5 778,1451 794,1459.5 809,1451.5 825,1461 841,1397.5 857,1362.5 873,1359.5 889,1342 905,1351 920,1369 936,1378 952,1404 968,1402.5 984,1412.5 1000,1420 1016,1423.5 1031,1393.75 1047,1410 1063,1426 1079,1425 1095,1432 1111,1447 1127,1455 1142,1466 1158,1458 1174,1465.5 1190,1462 1206,1462.5 1222,1475 1238,1458 1253,1456.5 1269,1459 1285,1471 1301,1475.5 1317,1494.5 1333,1494.5 1349,1488 1364,1493 1380,1486.5 1396,1514.8 1412,1481.5 1428,1483.5 1444,1486.5 1460,1484.5 1475,1491.5 1491,1494.5 1507,1482 1523,1477.5 1539,1418 1555,1439 1571,1436 1586,1440 1602,1448 1618,1448.5 1634,1447.5 1650,1452.5 1666,1459 1681,1463.5 1697,1465.5 1713,1450.5 1729,1469 1745,1477 1761,1478.5 1777,1488.5 1792,1482.5 1808,1486 1824,1467.5 1840,1477.5 1856,1484.5 1872,1491.5 1888,1493.5 1903,1485 1919,1483 1935,1478.5 1951,1477.5 1967,1473.5 1983,1475 1999,1462 2014,1409.5 2030,1440.5 2046,1451 2062,1459 2078,1459 2094,1467 2110,1470 2125,1451.5 2141,1444 2157,1443 2173,1456 2189,1467 2205,1465 2221,1465.5 2236,1460.5 2252,1449.5 2268,1450.5 2284,1458.5 2300,1446.5 2316,1448.5 2332,1438 2347,1458 2363,1414.5 2379,1434.5 2395,1437.5 2411,1426.5 2427,1425.5 2443,1441.5 2458,1417 2474,1436.5 2490,1422.5 2506,1403.5 2522,1405.5 2538,1426 2554,1438 2569,1428 2585,1424 2601,1414.5" fill="none" stroke="#7e57c2" stroke-width="1.8" stroke-linejoin="round" stroke-linecap="round"/>
</g>
<g fill="#e0e3eb" shape-rendering="crispEdges">
<rect x="0" y="1164" width="2990" height="2"/>
<rect x="0" y="1342" width="2990" height="2"/>
</g>
<g clip-path="url(#cpAx1)">
<text x="2813.49" y="42.2" fill="#3f414a" textLength="142.02" lengthAdjust="spacingAndGlyphs">0.00000850</text>
<text x="2813.49" y="162.2" fill="#3f414a" textLength="142.02" lengthAdjust="spacingAndGlyphs">0.00000750</text>
<text x="2813.49" y="227.2" fill="#3f414a" textLength="142.02" lengthAdjust="spacingAndGlyphs">0.00000700</text>
<text x="2813.49" y="298.2" fill="#3f414a" textLength="142.02" lengthAdjust="spacingAndGlyphs">0.00000650</text>
<text x="2813.49" y="374.2" fill="#3f414a" textLength="142.02" lengthAdjust="spacingAndGlyphs">0.00000600</text>
<text x="2813.49" y="440.2" fill="#3f414a" textLength="142.02" lengthAdjust="spacingAndGlyphs">0.00000560</text>
<text x="2813.49" y="587.2" fill="#3f414a" textLength="142.02" lengthAdjust="spacingAndGlyphs">0.00000480</text>
<text x="2813.49" y="670.2" fill="#3f414a" textLength="142.02" lengthAdjust="spacingAndGlyphs">0.00000440</text>
<text x="2813.49" y="810.2" fill="#3f414a" textLength="142.02" lengthAdjust="spacingAndGlyphs">0.00000380</text>
<text x="2813.49" y="889.2" fill="#3f414a" textLength="142.02" lengthAdjust="spacingAndGlyphs">0.00000350</text>
<text x="2813.49" y="959.2" fill="#3f414a" textLength="142.02" lengthAdjust="spacingAndGlyphs">0.00000325</text>
<text x="2813.49" y="1020.2" fill="#3f414a" textLength="142.02" lengthAdjust="spacingAndGlyphs">0.00000305</text>
<text x="2813.49" y="1085.2" fill="#3f414a" textLength="142.02" lengthAdjust="spacingAndGlyphs">0.00000285</text>
<text x="2813.49" y="1147.2" fill="#3f414a" textLength="142.25" lengthAdjust="spacingAndGlyphs">0.00000267</text>
</g>
<g clip-path="url(#cpAx2)">
<text x="2813.49" y="1183.5" fill="#3f414a" textLength="142.02" lengthAdjust="spacingAndGlyphs">0.00000020</text>
<text x="2813.49" y="1277.4" fill="#3f414a" textLength="142.02" lengthAdjust="spacingAndGlyphs">0.00000000</text>
</g>
<g clip-path="url(#cpAx3)">
<text x="2813.08" y="1355" fill="#3f414a" textLength="67.3" lengthAdjust="spacingAndGlyphs">80.00</text>
<text x="2813.64" y="1482.5" fill="#3f414a" textLength="66.72" lengthAdjust="spacingAndGlyphs">40.00</text>
</g>
<path d="M2797,479 H2963 a4,4 0 0 1 4,4 V509 a4,4 0 0 1 -4,4 H2797 Z" fill="#2196f3"/>
<text x="2813.49" y="504.5" fill="#fff" textLength="142.02" lengthAdjust="spacingAndGlyphs">0.00000510</text>
<path d="M2797,513 H2963 a4,4 0 0 1 4,4 V543 a4,4 0 0 1 -4,4 H2797 Z" fill="#2962ff"/>
<text x="2813.49" y="538.5" fill="#fff" textLength="142.02" lengthAdjust="spacingAndGlyphs">0.00000505</text>
<path d="M2797,687 H2963 a4,4 0 0 1 4,4 V717 a4,4 0 0 1 -4,4 H2797 Z" fill="#2a1ff0"/>
<text x="2813.49" y="712.5" fill="#fff" textLength="141.68" lengthAdjust="spacingAndGlyphs">0.00000404</text>
<path d="M2797,721 H2963 a4,4 0 0 1 4,4 V751 a4,4 0 0 1 -4,4 H2797 Z" fill="#2962ff"/>
<text x="2813.49" y="746.5" fill="#fff" textLength="142.02" lengthAdjust="spacingAndGlyphs">0.00000395</text>
<path d="M2797,755 H2963 a4,4 0 0 1 4,4 V785 a4,4 0 0 1 -4,4 H2797 Z" fill="#2e8b57"/>
<text x="2813.49" y="780.5" fill="#fff" textLength="142.25" lengthAdjust="spacingAndGlyphs">0.00000392</text>
<path d="M2797,816 H2963 a4,4 0 0 1 4,4 V846 a4,4 0 0 1 -4,4 H2797 Z" fill="#f23645"/>
<text x="2813.49" y="841.5" fill="#fff" textLength="142.13" lengthAdjust="spacingAndGlyphs">0.00000368</text>
<path d="M2797,975 H2963 a4,4 0 0 1 4,4 V1005 a4,4 0 0 1 -4,4 H2797 Z" fill="#2962ff"/>
<text x="2813.48" y="1000.5" fill="#fff" textLength="142.3" lengthAdjust="spacingAndGlyphs">0.00000311</text>
<path d="M2797,1172 H2963 a4,4 0 0 1 4,4 V1202 a4,4 0 0 1 -4,4 H2797 Z" fill="#2196f3"/>
<text x="2813.49" y="1197.5" fill="#fff" textLength="142.25" lengthAdjust="spacingAndGlyphs">0.00000009</text>
<path d="M2797,1206 H2963 a4,4 0 0 1 4,4 V1236 a4,4 0 0 1 -4,4 H2797 Z" fill="#ff6d00"/>
<text x="2813.49" y="1231.5" fill="#fff" textLength="142.25" lengthAdjust="spacingAndGlyphs">0.00000007</text>
<path d="M2797,1240 H2963 a4,4 0 0 1 4,4 V1270 a4,4 0 0 1 -4,4 H2797 Z" fill="#22ab94"/>
<text x="2813.49" y="1265.5" fill="#fff" textLength="142.25" lengthAdjust="spacingAndGlyphs">0.00000002</text>
<path d="M2797,1398 H2887 a4,4 0 0 1 4,4 V1428 a4,4 0 0 1 -4,4 H2797 Z" fill="#7e57c2"/>
<text x="2813.38" y="1423.5" fill="#fff" textLength="67.1" lengthAdjust="spacingAndGlyphs">58.36</text>
<text x="33.77" y="1553" fill="#3f414a" textLength="28.61" lengthAdjust="spacingAndGlyphs">12</text>
<text x="326.76" y="1553" fill="#3f414a" textLength="45.77" lengthAdjust="spacingAndGlyphs">Dec</text>
<text x="509.77" y="1553" fill="#3f414a" textLength="28.61" lengthAdjust="spacingAndGlyphs">12</text>
<text x="809.44" y="1553" fill="#3f414a" textLength="64.03" lengthAdjust="spacingAndGlyphs" font-weight="bold">2026</text>
<text x="1001.77" y="1553" fill="#3f414a" textLength="28.61" lengthAdjust="spacingAndGlyphs">12</text>
<text x="1311.32" y="1553" fill="#3f414a" textLength="43.08" lengthAdjust="spacingAndGlyphs">Feb</text>
<text x="1492.77" y="1553" fill="#3f414a" textLength="28.61" lengthAdjust="spacingAndGlyphs">12</text>
<text x="1754.02" y="1553" fill="#3f414a" textLength="45.05" lengthAdjust="spacingAndGlyphs">Mar</text>
<text x="1936.77" y="1553" fill="#3f414a" textLength="28.61" lengthAdjust="spacingAndGlyphs">12</text>
<text x="2249.15" y="1553" fill="#3f414a" textLength="38.86" lengthAdjust="spacingAndGlyphs">Apr</text>
<text x="2428.77" y="1553" fill="#3f414a" textLength="28.61" lengthAdjust="spacingAndGlyphs">12</text>
<text x="2720.04" y="1553" fill="#3f414a" textLength="46.7" lengthAdjust="spacingAndGlyphs">May</text>
<text x="17.28" y="41.2" fill="#3f414a" textLength="322.33" lengthAdjust="spacingAndGlyphs">PEPE/USD (baha Crypto), 1D</text>
<text x="353.71" y="41.2" fill="#3f414a" textLength="18.44" lengthAdjust="spacingAndGlyphs">O</text>
<text x="373.23" y="41.2" fill="#2e8b57" textLength="136.46" lengthAdjust="spacingAndGlyphs">0.00000381</text>
<text x="523.23" y="41.2" fill="#3f414a" textLength="17.98" lengthAdjust="spacingAndGlyphs">H</text>
<text x="541.6" y="41.2" fill="#2e8b57" textLength="140.4" lengthAdjust="spacingAndGlyphs">0.00000395</text>
<text x="695.88" y="41.2" fill="#3f414a" textLength="12.84" lengthAdjust="spacingAndGlyphs">L</text>
<text x="710.01" y="41.2" fill="#2e8b57" textLength="139.09" lengthAdjust="spacingAndGlyphs">0.00000378</text>
<text x="862.28" y="41.2" fill="#3f414a" textLength="17.67" lengthAdjust="spacingAndGlyphs">C</text>
<text x="880" y="41.2" fill="#2e8b57" textLength="140.22" lengthAdjust="spacingAndGlyphs">0.00000392</text>
<text x="1034.03" y="41.2" fill="#2e8b57" textLength="246.52" lengthAdjust="spacingAndGlyphs">0.00000011 (+2.89%)</text>
<text x="17.18" y="74.8" fill="#3f414a" textLength="222.05" lengthAdjust="spacingAndGlyphs">EMA (200, close, 0)</text>
<text x="254.03" y="74.8" fill="#2196f3" textLength="136.44" lengthAdjust="spacingAndGlyphs">0.00000510</text>
<text x="17.18" y="109" fill="#3f414a" textLength="207.69" lengthAdjust="spacingAndGlyphs">EMA (50, close, 0)</text>
<text x="239.2" y="109" fill="#f23645" textLength="141.22" lengthAdjust="spacingAndGlyphs">0.00000368</text>
<text x="17.21" y="143.1" fill="#3f414a" textLength="218.49" lengthAdjust="spacingAndGlyphs">EMA (100, close, 0)</text>
<text x="250.5" y="143.1" fill="#2a1ff0" textLength="141.18" lengthAdjust="spacingAndGlyphs">0.00000404</text>
<text x="17.22" y="1206" fill="#3f414a" textLength="266.34" lengthAdjust="spacingAndGlyphs">MACD (12, 26, close, 9)</text>
<text x="298" y="1206" fill="#22ab94" textLength="140.22" lengthAdjust="spacingAndGlyphs">0.00000002</text>
<text x="452" y="1206" fill="#2196f3" textLength="141.23" lengthAdjust="spacingAndGlyphs">0.00000009</text>
<text x="607.01" y="1206" fill="#ff6d00" textLength="139.2" lengthAdjust="spacingAndGlyphs">0.00000007</text>
<text x="17.33" y="1383.8" fill="#3f414a" textLength="88.11" lengthAdjust="spacingAndGlyphs">RSI (14)</text>
<text x="119.91" y="1383.8" fill="#7e57c2" textLength="65.65" lengthAdjust="spacingAndGlyphs">58.36</text>
<g fill="#eef0f5" shape-rendering="crispEdges">
<rect x="0" y="0" width="2990" height="2"/>
<rect x="0" y="1570" width="2990" height="2"/>
<rect x="0" y="0" width="2" height="1572"/>
<rect x="2988" y="0" width="2" height="1572"/>
</g>
<rect x="1" y="339" width="1" height="54" fill="#e8707a" shape-rendering="crispEdges"/>
</svg>
</body></html>
